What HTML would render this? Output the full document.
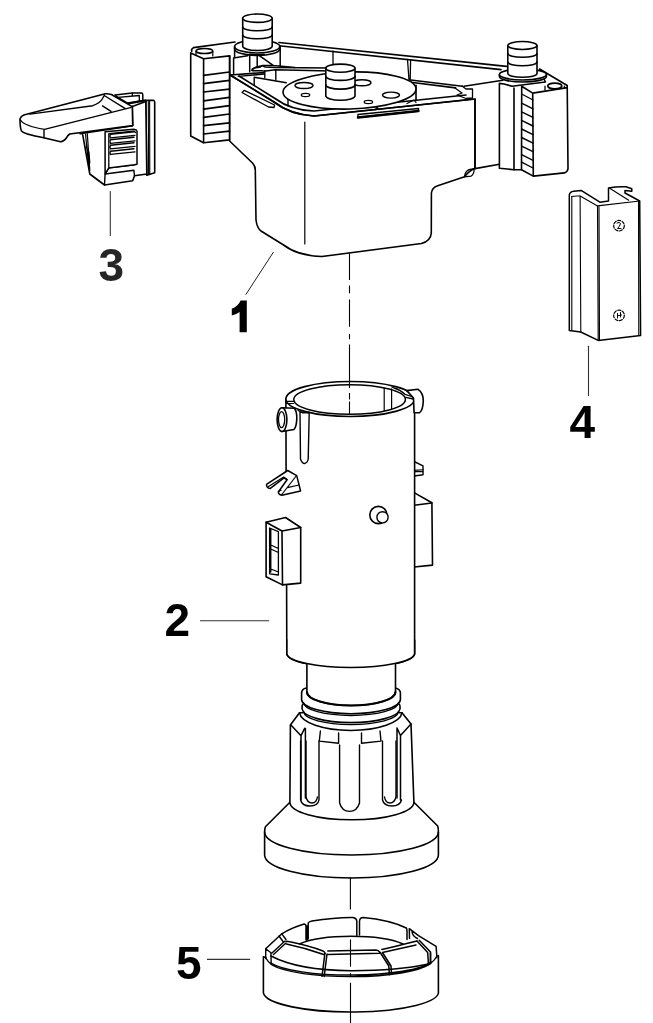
<!DOCTYPE html>
<html><head><meta charset="utf-8"><style>
html,body{margin:0;padding:0;background:#fff;width:653px;height:1023px;overflow:hidden}
svg{position:absolute;left:0;top:0;will-change:transform}
</style></head><body>
<svg width="653" height="1023" viewBox="0 0 653 1023">
<g fill="none" stroke="#000" stroke-width="1.6" stroke-linejoin="round" stroke-linecap="round">
<!-- ========== PART 1 ========== -->
<!-- back rail -->
<path d="M279,42.5 L506.5,66.4 M279,45.8 L501,69.6"/>
<path d="M333,51 L333,65 M407.5,59.5 L409,80 M410.6,59.8 L410.2,80" stroke-width="1.3"/>
<!-- frame top left of ring -->
<path d="M235,42 L193.5,47.6 Q191,49 191.7,51.5"/>
<!-- interior walls left -->
<path d="M233.6,57.9 L247.5,55.7 M233.6,57.9 L233.6,74.5 M249.7,55.7 L249.7,71.8 M257.2,54.1 L257.2,65.4 M257.2,54.1 L273.2,65.4 M280.2,46 L280.2,65.4 M251.8,70.2 L254.5,68 L260.5,67 L262.5,65.4 L273.2,65.4 L295,67.5 M229.8,55.7 L229.8,75" stroke-width="1.5"/>
<!-- body main outline (white fill) -->
<path fill="#fff" d="M229.6,74.7 L229.6,141 L252.5,163 Q255.3,166 255.3,170 L256,220 Q257,228 261,231 L283.6,245 C290,250 300,256 322,256.5 L421.4,243.5 Q430.8,241 431.3,233 L431.4,193 Q432,188 437,186 L464.5,176.8 Q470,170 475,168.6 L475,99 L472,99.3 L314,116 Q290,114.5 274,102 Z"/>
<path d="M304.8,122 L304.8,244" stroke-width="1.2"/>
<path d="M475,168.6 L499.5,164.3"/>
<path d="M464.5,176.8 Q465,171.5 469,169.6 L474,168.6 Q474.5,174 471,176.2 Z" stroke-width="1.3"/>
<!-- right frame wall between body and block -->
<path d="M475,99 L475,168.6 M464,86.2 L502.8,80.3"/>
<!-- body top rim -->
<path d="M229.8,74.7 L274,102 Q290,114.5 314,116 L473,99.3"/>
<path d="M239,76 L275,98.5 Q291,110.3 314,111 L466,95"/>
<path d="M230.1,75 L264,72.6 M410.6,80 L462.4,86.2 M410.6,82.3 L455.6,87.9"/>
<!-- notch right -->
<path d="M455,88 L462,93 L457,95 L466,98.5 L472.5,98 L472.5,89 L466,89 L462,86" stroke-width="1.3"/>
<!-- notch left -->
<path d="M252.4,68.9 L256,67 L262,65.7 L265.2,67 L275.3,67.5 L330,68 M252.4,70.7 L262,70.7 L263.8,71.2 L275.3,69.8 L330,71 M238.3,76.4 L264,74" stroke-width="1.4"/>
<!-- interior wall left top -->
<path d="M254.2,77.2 L254.2,85.5 M264.8,70.7 L264.8,77.6 M275.8,69.8 L275.8,79.5 M254.2,77.2 L286.3,82.7 M288,96 L288,106" stroke-width="1.4"/>
<!-- inner wall right -->
<path d="M416,85.3 L416,100.5"/>
<!-- clip slots on rim -->
<path d="M244.3,90.3 L274.6,105 L274,107.5 L268.5,107 L242,92.5 Z" stroke-width="1.3"/>
<path d="M357.9,114.5 L418.5,108.5 L418.5,111 L358,117.5 Z" stroke-width="1.4"/>
<path d="M358,117.5 L418.5,111" stroke-width="2.4"/>
<!-- disc -->
<ellipse cx="349.5" cy="90.5" rx="66.5" ry="18.5" transform="rotate(-1.5 349.5 90.5)" fill="#fff"/>
<path d="M375.5,109.8 L377,107 L378.6,109.5 M407,103.5 L414,100 L416,102.5" stroke-width="1.2"/>
<ellipse cx="304" cy="85.5" rx="9" ry="3" stroke-width="1.4"/>
<ellipse cx="305.5" cy="95" rx="4.2" ry="1.6" stroke-width="1.3"/>
<ellipse cx="391" cy="95.1" rx="8.5" ry="3" stroke-width="1.4"/>
<ellipse cx="368.4" cy="102" rx="4.2" ry="1.6" stroke-width="1.3"/>
<ellipse cx="362" cy="82.7" rx="9" ry="3" stroke-width="1.4"/>
<!-- center pin -->
<path fill="#fff" d="M325.8,68.3 L325.8,96 A14.6,4.2 0 0 0 355,96 L355,68.3 Z"/>
<ellipse cx="340.4" cy="68.2" rx="14.6" ry="4.1" fill="#fff"/>
<path d="M325.8,76.2 A14.6,4.2 0 0 0 355,76.2 M325.8,84.9 A14.6,4.2 0 0 0 355,84.9"/>
<!-- left block -->
<path fill="#fff" d="M190.7,52.9 L190.7,136 L203.6,142.8 L229.5,139.9 L229.5,55.9 L203.6,58.8 Z"/>
<path d="M203.6,58.8 L203.6,142.8"/>
<path d="M203.6,75.4 L229.5,72 M203.6,83.7 L229.5,80.3 M203.6,92 L229.5,89.1 M203.6,100.8 L229.5,97.4 M203.6,109.1 L229.5,105.7 M203.6,117.4 L229.5,114 M203.6,125.7 L229.5,122.8 M203.6,134 L229.5,131.1" stroke-width="1.7"/>
<ellipse cx="204.4" cy="51" rx="8.4" ry="2.6" stroke-width="1.5"/>
<path d="M196,51 L196,55 M212.8,51 L212.8,56" stroke-width="1.2"/>
<!-- right block -->
<path fill="#fff" d="M499.4,83.4 L499.4,168.2 L514,169.7 L521.5,169.7 L533.3,176.1 L564.4,172.9 Q568,171.5 568,168.6 L567.2,85.5 L539.6,69 L545.4,82 L512,86.2 L504,84 Z"/>
<path d="M514,88 L514,169.7 M521.7,86.2 L521.5,169.7 M532.7,93.1 L533.3,176.1 M521.7,86.2 L532.7,93.1 L567.2,87.6"/>
<path d="M521.6,94 L533,100 M521.6,103.2 L533,108.8 M521.6,111.8 L533,117.4 M521.6,120.4 L533,126 M521.6,129 L533,134.6 M521.6,137.5 L533,143.1 M521.6,146.1 L533,151.7 M521.6,154.7 L533,160.3 M521.6,162.2 L533,168" stroke-width="1.4"/>
<path d="M545,86.2 L545,89.8 M564.4,86.2 L564.4,88.5" stroke-width="1.3"/>
<ellipse cx="554.8" cy="86" rx="7" ry="2.8" stroke-width="1.7" fill="#fff"/>
<!-- pins -->
<path fill="#fff" d="M234.6,46.5 L234.6,49 A22.6,6.5 0 0 0 279.8,49 L279.8,46.5 Z"/>
<ellipse cx="257.2" cy="46.5" rx="22.6" ry="6.5" fill="#fff"/>
<path d="M250,54.5 Q257,55.5 264,54.6" stroke-width="2"/>
<path d="M234.6,47 L234.6,57.5" stroke-width="1.5"/>
<path fill="#fff" d="M242.7,18.2 L242.7,46 A14.75,4.5 0 0 0 272.2,46 L272.2,18.2 Z"/>
<ellipse cx="257.4" cy="18.2" rx="14.75" ry="4.2" fill="#fff"/>
<path d="M242.7,27 A14.75,3.8 0 0 0 272.2,27 M242.7,35 A14.75,3.8 0 0 0 272.2,35"/>
<path fill="#fff" d="M499.4,74.5 L499.4,76.5 A23.5,5.5 0 0 0 546.4,76.5 L546.4,74.5 Z"/>
<ellipse cx="522.9" cy="74.5" rx="23.5" ry="5.5" fill="#fff"/>
<path fill="#fff" d="M507.8,46 L507.8,73.5 A14.6,3.8 0 0 0 537,73.5 L537,46 Z"/>
<ellipse cx="522.4" cy="45.5" rx="14.6" ry="4" fill="#fff"/>
<path d="M507.8,53.5 A14.6,3.8 0 0 0 537,53.5 M507.8,62 A14.6,3.8 0 0 0 537,62"/>
<!-- leader 1 -->
<path d="M273.3,252.3 L246,294.3" stroke-width="1" stroke="#222"/>
<!-- center line top -->
<path d="M349.5,253.3 L349.5,279.9 M349.5,285.4 L349.5,293.2 M349.5,299.4 L349.5,326.8 M349.5,334 L349.5,339.3 M349.5,344.5 L349.5,388" stroke-width="1.1" stroke-linecap="butt"/>
<!-- ========== PART 3 ========== -->
<g id="p3">
<!-- rear plate -->
<path fill="#fff" d="M145.8,101.4 Q146,100.4 148,100.3 L153.7,100.4 Q154.7,101 154.7,102 L154.7,172.8 L146.8,175.2 Z"/>
<path d="M148.3,101.5 L148.6,174.5 M149.6,101 L149.8,174" stroke-width="1.1"/>
<!-- top tab -->
<path fill="#fff" d="M114.9,95 L132.3,93 L141.8,93 Q142.8,93.5 142.8,95 L142.8,100.4 L128,103.4 L117.9,97.4 Z" stroke-width="1.5"/>
<path d="M117.9,97.4 L139.3,95.5 L139.3,100.6 M132.3,93 L132.3,95.8" stroke-width="1.3"/>
<path d="M128,103.4 L145.8,100.4" stroke-width="2.2"/>
<!-- body -->
<path fill="#fff" d="M80,133.6 L82.5,133.6 L89.8,174 L104.5,185 L132.7,180.7 L134.5,175.8 L146.8,174 L145.8,101.4 L132.3,106.4 L132.7,125.6 Z"/>
<path d="M87.3,133.6 L89.8,170.5 M85.5,134 L88.9,168 M86,147 L89,152 L89.8,163" stroke-width="1.2"/>
<path d="M105.1,174 L104.5,185 M105.1,174 L133.9,170.3 L134.5,175.8 M108.8,167.9 L134.5,164.8 M108.8,167.9 L105.1,174" stroke-width="1.4"/>
<!-- grill -->
<path fill="#fff" d="M105.1,131.7 L133.9,129.3 Q136.5,129.5 137,131.1 L137,164.2 L134.5,164.8 L108.8,167.9 L105.1,174 Z" stroke-width="1.5"/>
<path d="M108.8,133.6 L108.8,167.9 M108.8,133.6 L133.9,131.1 L135.5,132.5" stroke-width="1.3"/>
<path d="M110.5,134.2 L134,131.7 M110.5,137.9 L135,135.4 M110.5,139.7 L134,137.2 M110.5,143.4 L135,140.9 M110.5,145.2 L134,142.7 M110.5,148.9 L135,146.4 M110.5,151.3 L134,148.8 M110.5,154.4 L135,151.9 M110.5,134.2 Q109.3,136 110.5,137.9 M110.5,139.7 Q109.3,141.5 110.5,143.4 M110.5,145.2 Q109.3,147 110.5,148.9 M110.5,151.3 Q109.3,153 110.5,154.4" stroke-width="1.4"/>
<!-- lever -->
<path fill="#fff" d="M23.8,114.9 L103.4,94.2 L105,93.8 Q108,93.6 111.4,94.5 L131.8,106.4 L132.3,106.4 L132.7,125.6 L69.7,134 Q67,136 66.7,137.5 Q64,141.5 60.5,141.7 L43.7,137.8 Q24,134 21.5,131 Q20,128 20,118.7 Q21,116 23.8,114.9 Z"/>
<path d="M29.9,114.1 L92.7,105.7 Q100,103 101.9,99.5 L104.5,95 M20.5,120 Q24,126 44.5,129.4 L131.3,107.4 M44,129.4 L44,137.8 M105,96 L124.9,108.4 M102.5,105.9 L111,111.4" stroke-width="1.4"/>
<!-- leader 3 -->
<path d="M110.3,191.5 L110.3,235.5" stroke-width="1.1" stroke="#333"/>
</g>
<!-- ========== PART 4 ========== -->
<g id="p4">
<path fill="#fff" stroke-width="1.5" d="M569.3,330.4 L569.3,194.9 Q570,191.5 573.6,191.2 L581.5,190.6 L599.9,202.2 L608.5,201 L608.5,188.1 Q617,186.3 626,186.8 L631.8,188.7 L631.8,191.2 L625,190.6 L625,193 L639.7,201 L640.6,335.4 L598.2,340.4 L580.8,332 Z"/>
<path d="M571.5,196.5 L579.7,195.8 M571.8,196.5 L571.8,330.4 M580.1,196.1 L580.8,332 M579.7,195.8 L597.5,205.9 L639.7,201 M599,206.5 L599.5,339.8 M597.5,205.9 L598.2,340.4 M609.7,188.3 L628.7,200.2 M638.5,202 L638.8,335" stroke-width="1.1"/>
<circle cx="619" cy="225.7" r="5.3" stroke-width="1.2" stroke-dasharray="3 1.6"/>
<circle cx="619" cy="315.4" r="5.3" stroke-width="1.2" stroke-dasharray="3 1.6"/>
<path d="M617,223 Q619.5,221.5 620.5,223.5 Q620,226 617.5,228.5 L621,228.5 M617.5,313.5 L617.5,318 M620.5,312.5 L620.5,317 M617.5,315.8 L621.5,315" stroke-width="1"/>
<path d="M588.5,346.2 L588.5,395.4" stroke-width="1.1" stroke="#333"/>
</g>
<!-- ========== PART 2 ========== -->
<g id="p2">
<!-- right box & tab behind tube -->
<path fill="#fff" d="M414.1,492.6 L431.9,502.8 L432.5,565.1 L414.1,567 Z"/>
<path d="M414.1,505.3 L431.9,503" stroke-width="1.5"/>
<path fill="#fff" d="M414.1,461.5 L423,465.9 L423,474.8 L414.1,476 Z" stroke-width="1.4"/>
<path d="M414.1,470.4 L423,469.8 M414.1,471.6 L423,471.6" stroke-width="1.1"/>
<!-- tube -->
<path fill="#fff" stroke="none" d="M285.9,399 L286.8,654 A64,14.5 0 0 0 414.6,654 L414.6,399 Z"/>
<path d="M285.9,399 L286.1,471 M286.6,585 L286.8,654 A64,14.5 0 0 0 414.6,654 L414.6,399"/>
<ellipse cx="350.2" cy="399" rx="64.3" ry="17.5" fill="#fff"/>
<ellipse cx="349.6" cy="399.5" rx="55.8" ry="14.8" stroke-width="1.5"/>
<path d="M349.5,381 L349.5,388 M349.5,392.9 L349.5,399.5 M349.5,401.5 L349.5,414" stroke-width="1.1" stroke-linecap="butt"/>
<path d="M286,401.4 L293.4,401.4 M286,403.5 L293.6,403.5 M384.2,388 L384.2,410.4 M391.6,388.8 L391.6,409" stroke-width="1.2"/>
<path d="M392,387 L394,388 Q400,389.5 404.9,394.3 L413.2,397 M405.8,397.3 L413.2,399" stroke-width="1.3"/>
<!-- right pin -->
<path fill="#fff" d="M406.8,390.6 L417.8,389.2 Q423.3,393 423.3,400.7 Q423,410 419.6,412.7 L414.1,412.7 L413.5,398 Z"/>
<!-- left pin -->
<path fill="#fff" d="M282,407.7 L294.5,408.3 Q297,412 296.8,418.5 Q296.5,427 294,429.5 L282,431.5 Z"/>
<ellipse cx="282" cy="419.6" rx="4.9" ry="11.9" fill="#fff"/>
<ellipse cx="281.6" cy="419.6" rx="3.1" ry="8" stroke-width="1.3"/>
<!-- rib -->
<path fill="#fff" d="M300,412 L300.5,459 Q302,463.5 304.5,463.5 Q307.5,463 308.2,459 L309.2,413 Z" stroke-width="1.4"/>
<path d="M298,410.5 L303,413 L309.2,412" stroke-width="1.2"/>
<!-- V clip -->
<path fill="#fff" d="M287.7,470.5 L296.7,475.6 L300.6,491 L281.9,495.2 Q278.2,494.5 278.4,492 L287,479.8 L284,477.8 L270,488.6 Q266.5,488.3 266.5,484.3 Z" stroke-width="1.5"/>
<path d="M268.5,486.5 L283.7,477 L287.2,479.6 M295.8,476.5 L281.8,494.5 M287.5,487.6 L299,485 M278.4,491.5 Q280,490 281,490.5" stroke-width="1.2"/>
<!-- left box -->
<path fill="#fff" d="M266.1,522.2 L285.5,517.5 L300.7,527.5 L300.7,583.1 L282.5,584.9 L266.1,576.7 Z"/>
<path d="M266.1,522.2 L282,531 L300.7,527.5 M282,531 L282.5,584.9"/>
<path d="M269.6,528 L278.4,531.6 L278.4,575 L269.6,573.8 Z M270.8,529.5 L270.8,572 M270.8,545 L278.4,548.5 M270.8,549 L278.4,552.5 M270.8,569 L278.4,572" stroke-width="1.3"/>
<!-- front pin -->
<circle cx="378.4" cy="515" r="8.6" fill="#fff"/>
<circle cx="382.5" cy="517.3" r="5.6" stroke-width="1.4" fill="#fff"/>
<!-- base flange -->
<path fill="#fff" d="M289.9,802.2 L265.4,826.7 Q264.6,829 264.6,832 L264.6,855 A86.9,23 0 0 0 438.4,855 L438.4,832 Q438.4,828 437.7,826 L413.9,802.2 Z"/>
<path d="M264.6,832 A86.9,23 0 0 0 438.4,832"/>
<!-- nut -->
<path fill="#fff" d="M299.5,712.7 L290.4,725 L289.9,802.2 A62,17.6 0 0 0 413.9,802.2 L411,724 L402,712.7 Z"/>
<path d="M299.5,712.7 A51.3,18.5 0 0 0 402,712.7 M290.9,725 L301,735.7 L304.8,728.2 M411,724 L400.5,735.5 L397,728 M301,735.7 L301,800 M305.4,728.5 L305.4,798 M400.5,735.5 L400.5,800 M397,728.5 L397,798" stroke-width="1.5"/>
<path d="M300.6,741 L300.6,800 Q302,806 309.8,806 Q318,806 319,800 L319,741 M306,741 L306,797 Q307.5,803 312,803 Q316.5,803 317.4,797 M339.6,745 L339.6,803 Q342,811.4 349.5,811.4 Q357,811.4 359.5,803 L359.5,745 M382.5,741 L382.5,800 Q384,806 392,806 Q400,806 401.5,800 M384.5,797 Q385.5,803 390,803 Q394.5,803 396,797 L396,741" stroke-width="1.4"/>
<path d="M320.4,731 L319.3,741.1 L338.6,743.2 L338.6,733 M361.5,733 L361.5,743.2 L381,741.1 L380,731" stroke-width="1.4"/>
<!-- ring 2 -->
<path fill="#fff" d="M302.1,706 Q302.1,704 304,703.5 L398,703.5 Q400,704 400,706 L400,709 A49,14.2 0 0 1 302.1,709 Z"/>
<path d="M304,712 A47,12.5 0 0 0 398,712" stroke-width="1.4"/>
<!-- ring 1 -->
<path fill="#fff" d="M306.4,688 Q301.6,689 301.6,693 L301.6,699.5 A49.4,14.2 0 0 0 400.4,699.5 L400.4,693 Q400.4,689 395,688 Z"/>
<path d="M303.5,702.5 A47.5,13 0 0 0 398.5,702.5" stroke-width="1.4"/>
<!-- neck -->
<path fill="#fff" d="M306.9,660 L306.9,692 A44.3,13.5 0 0 0 395.5,692 L395.5,660 Z" stroke-width="1.6"/>
<path d="M306.9,692 A44.3,13.5 0 0 0 395.5,692" stroke-width="2.2"/>
<!-- tube bottom redraw -->
<path fill="#fff" stroke="none" d="M287.5,640 L287.5,654 A63.3,14.3 0 0 0 413.9,654 L413.9,640 Z"/>
<path d="M286.8,640 L286.8,654 A64,14.3 0 0 0 414.6,654 L414.6,640"/>
<!-- leader 2 -->
<path d="M200.4,620.7 L268.6,620.7" stroke-width="1.1" stroke="#333"/>
</g>
<!-- center line lower -->
<path d="M350.4,877 L350.4,909.6 M350.4,922.7 L350.4,929.8" stroke-width="1.1" stroke-linecap="butt"/>
<!-- ========== PART 5 ========== -->
<g id="p5">
<!-- base cylinder -->
<path fill="#fff" stroke="none" d="M263.4,956.8 L263.4,993 A87.5,20 0 0 0 438.4,991 L438.4,955.5 L436.9,946 L418.5,935.6 L406.3,928 Q380,918 353,917.3 Q320,918 304.2,924 L281.8,933.8 L265.7,948.7 Z"/>
<path d="M263.4,956.8 L263.4,993 A87.5,20 0 0 0 438.4,991 L438.4,955.5 M263.4,956.8 L265.7,957.5"/>
<path d="M271,963 A83,17 0 0 0 431,962 M265.5,957.5 Q268,962 272,965 A83,17.5 0 0 0 430,964 Q435,960 437,956" stroke-width="1.4"/>
<!-- segment face bottom B -->
<path d="M271,956 C290,966 320,970.5 351,970.7 C385,970.8 410,968 428.5,964" stroke-width="1.5"/>
<!-- inner opening arc -->
<path d="M299.5,944 A60,15.6 0 0 1 403,944" stroke-width="1.5"/>
<!-- back outer top edges & sides -->
<path d="M265.7,948.7 L281.8,933.8 Q292,927.5 304.2,924 Q306,924.5 306,926 L306,940 M307.1,926 L307.1,940 M308.2,939 L308.2,923 Q309,921.5 312,921 Q335,917.3 353,917.5 Q356.4,918 356.8,921 L356.8,935.5 M359.5,935 L359.5,921 Q360,917.5 363,917.5 Q390,920 406.3,928 Q407,929 407,931 L407,939.5 M409.3,928.7 L418.5,935.6 L436.1,946.3 L436.9,957.8 M409.3,928.7 L409.5,938.5 M412,931.5 Q412.5,936.5 417.5,938.5 M430.5,953 L430.5,963.5" stroke-width="1.5"/>
<path d="M265.7,948.7 L265.7,958.5 M265.7,948.7 L270.9,952.7 L271.2,964 M284.7,941.2 L272,953 M286,943 L273.5,954.5 M281.8,933.8 L286,939.5 M279,936 L283,941.5" stroke-width="1.4"/>
<!-- front segments tops A1/A2 -->
<path d="M285.8,941.2 Q288,941.3 289.9,941.8 Q310,946 323,951 Q325,952 325,953.5 M286.4,944.1 Q305,948 323.7,954.5" stroke-width="1.5"/>
<path d="M327.8,951 Q351,950.5 376,950 Q378.5,950.3 379.6,952 M327.8,954.5 Q351,954 379.6,953.2" stroke-width="1.5"/>
<path d="M381.8,949.4 Q400,945.5 413.9,941.8 L417,941 M383.5,952.2 Q400,948.5 416,945" stroke-width="1.5"/>
<!-- separators -->
<path d="M324.9,953.3 L322,976.3 M327,954 L324.2,976.5" stroke-width="1.5"/>
<path d="M380.2,952.5 L388.8,966 L389.4,974.7 M382.5,952.5 L391,966 L391.5,974.3" stroke-width="1.5"/>
<path d="M417,941 L427.7,952.5 L428.5,964.7 M419.2,940.2 L430.5,952 L430.5,963.5" stroke-width="1.5"/>
<path d="M350.5,939.5 L350.5,966.8 M350.5,973.2 L350.5,976.4 M350.5,982.8 L350.5,1023" stroke-width="1.1" stroke-linecap="butt"/>
<!-- leader 5 -->
<path d="M207.4,959.4 L249.7,959.4" stroke-width="1.1" stroke="#333"/>
</g>
</g>
<g font-family="Liberation Sans" font-weight="bold" font-size="46" fill="#000" opacity="0.999">
<text x="98.5" y="280.5" fill="#262626">3</text>
<text x="569.5" y="437.8">4</text>
<text x="164.5" y="635.5">2</text>
<text x="176" y="979.2">5</text>
</g>
<path fill="#000" d="M246.8,300.6 L246.8,332.2 L239.6,332.2 L239.6,312 Q236,314.6 231.8,315.5 L231.8,308.8 Q238.5,306 240.6,300.6 Z"/>
</svg>
</body></html>
